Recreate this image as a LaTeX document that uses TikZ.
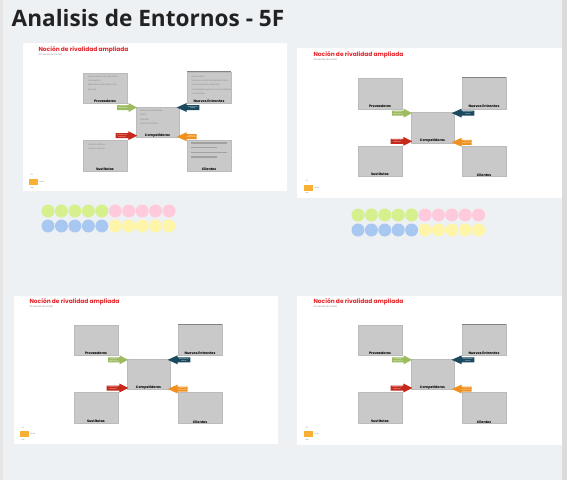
\documentclass[tikz,border=0pt]{standalone}
\usepackage{fontspec}
\setmainfont{Open Sans}
\newfontfamily\pop{Poppins}
\definecolor{bgc}{HTML}{EEF1F4}
\definecolor{titlec}{HTML}{222222}
\definecolor{boxc}{HTML}{C9C9C9}
\definecolor{boxd}{HTML}{BBBBBB}
\definecolor{redt}{HTML}{E3262B}
\definecolor{arrg}{HTML}{9DBB61}
\definecolor{arrb}{HTML}{1B4A5E}
\definecolor{arrr}{HTML}{C62A1C}
\definecolor{arro}{HTML}{F0901E}
\definecolor{legc}{HTML}{F7B032}
\definecolor{cgreen}{HTML}{D5F08C}
\definecolor{cpink}{HTML}{FFCADB}
\definecolor{cblue}{HTML}{A8C8F2}
\definecolor{cyell}{HTML}{FFF5A8}
\definecolor{txtg}{HTML}{8A8A8A}
\tikzset{
  slidebg/.style={fill=white, draw=none},
  box/.style={rectangle, fill=boxc, draw=boxd, line width=0.4pt, minimum width=43.4pt, minimum height=30.6pt, inner sep=0},
  lbl/.style={font=\pop\bfseries\fontsize{3.4}{4}\selectfont, inner sep=0, anchor=base},
  sm/.style={font=\pop\fontsize{2.2}{4.4}\selectfont, text=txtg, inner sep=0, anchor=north west, align=left},
  awt/.style={font=\pop\fontsize{1.5}{1.8}\selectfont, text=white, inner sep=0, align=center},
  dot/.style={circle, minimum size=13pt, inner sep=0, draw=none},
}
\newcommand\porterslide[4]{%
\begin{scope}[shift={(#2,#3)}]
  \node[anchor=west, inner sep=0, font=\pop\bfseries\fontsize{5.9}{6}\selectfont, text=redt] (#1tit) at (-45,-23) {Noción de rivalidad ampliada};
  \node[anchor=west, inner sep=0, font=\pop\fontsize{2.3}{3}\selectfont, text=txtg] (#1sub) at (-45,-18.3) {(5 Fuerzas de Porter)};
  \node[box] (#1prov) at (21.7,15.3) {};
  \node[box, minimum height=31.3pt] (#1nue) at (125.7,15) {};
  \draw[color=boxd!70!black, line width=0.8pt] (#1nue.north west) -- (#1nue.north east);
  \node[box] (#1comp) at (74.2,49.3) {};
  \node[box] (#1sus) at (21.7,82.7) {};
  \node[box] (#1cli) at (125.7,82.7) {};
  \node[lbl] (#1provl) at ([yshift=1.2pt]#1prov.south) {Proveedores};
  \node[lbl] (#1nuel) at ([yshift=1.2pt]#1nue.south) {Nuevos Entrantes};
  \node[lbl] (#1compl) at ([yshift=1.2pt]#1comp.south) {Competidores};
  \node[lbl] (#1susl) at ([yshift=0.6pt]#1sus.south) {Sustitutos};
  \node[lbl] (#1clil) at ([yshift=0.2pt]#1cli.south) {Clientes};
  % arrows
  \fill[arrg] (33.7,32.3) -- (45.3,32.3) -- (45.3,30.3) -- (53.7,34.8) -- (45.3,39.3) -- (45.3,37.3) -- (33.7,37.3) -- cycle;
  \node[awt] (#1ag) at (39.7,34.8) {Poder de\\negociación};
  \fill[arrb] (116,32.3) -- (103.4,32.3) -- (103.4,30.3) -- (93.4,34.8) -- (103.4,39.3) -- (103.4,37.3) -- (116,37.3) -- cycle;
  \node[awt] (#1ab) at (109.5,34.8) {Amenaza de\\nuevos};
  \fill[arrr] (32.4,60.5) -- (45,60.5) -- (45,58.5) -- (54,63) -- (45,67.5) -- (45,65.5) -- (32.4,65.5) -- cycle;
  \node[awt] (#1ar) at (38.7,63) {Amenaza de\\sustitutos};
  \fill[arro] (113.4,61.5) -- (103.4,61.5) -- (103.4,59.5) -- (93.4,64) -- (103.4,68.5) -- (103.4,66.5) -- (113.4,66.5) -- cycle;
  \node[awt] (#1ao) at (108.4,64) {Poder de\\negociación};
  % legend
  \node[inner sep=0, font=\pop\fontsize{1.8}{2}\selectfont, text=txtg, anchor=west] (#1lx) at (-53,102.5) {3\%};
  \node[rectangle, fill=legc, minimum width=9pt, minimum height=6pt, inner sep=0] (#1lr) at (-49.5,109.3) {};
  \node[inner sep=0, font=\pop\fontsize{1.8}{2}\selectfont, text=txtg, anchor=west] (#1lt) at ([xshift=0.8pt]#1lr.east) {Bruto};
  \node[inner sep=0, font=\pop\fontsize{1.8}{2}\selectfont, text=txtg, anchor=west] (#1lb) at (-53,115) {Net};
  \ifnum#4=1
    \node[sm] (#1provt) at (4.5,2.5) {Suprimientos de Operación\\a tu equipo\\Mercados al alcance y los\\precios};
    \node[sm] (#1nuet) at (108,2.5) {Nuevo Nivel\\Nuevas marcas de bebidas listas\\con propuestas naturales\\y saludables para los consumidores\\conscientes};
    \node[sm] (#1compt) at (56.5,37) {Marcas comerciales\\Precio\\Calidad\\Posicionamiento};
    \node[sm] (#1sust) at (4.5,70.5) {Cuerpo estético\\Cuerpo natural};
    \fill[txtg!80] (107.4,69.3) rectangle (144,71);
    \fill[txtg!80] (107.4,73.9) rectangle (133.4,75.6);
    \fill[txtg!80] (107.4,78.9) rectangle (144,80.6);
    \fill[txtg!80] (107.4,83.6) rectangle (133.4,85.3);
  \fi
\end{scope}}
\begin{document}
\begin{tikzpicture}[x=1pt,y=-1pt]
  \useasboundingbox (0,0) rectangle (567,480);
  \fill[bgc] (0,0) rectangle (567,480);
  \fill[black!10] (0,0) rectangle (2.5,480);
  \fill[black!14] (562,0) rectangle (567,480);
  \node[anchor=base west, inner sep=0, font=\bfseries\fontsize{22.6}{26}\selectfont, text=titlec] (title) at (11.5,26) {Analisis de Entornos - 5F};
  % slides
  \fill[slidebg] (23,43) rectangle (287,191);
  \fill[slidebg] (297,48) rectangle (562,198);
  \fill[slidebg] (14,296) rectangle (278,444);
  \fill[slidebg] (297,296) rectangle (562,445);
  \porterslide{a}{83.3}{72.7}{1}
  \porterslide{b}{358.3}{78.3}{0}
  \porterslide{c}{74.3}{325}{0}
  \porterslide{d}{358.3}{325}{0}
  % dots
  \foreach \i in {0,...,4} {
    \node[dot, fill=cgreen] (ag\i) at (48+13.45*\i,211) {};
    \node[dot, fill=cblue] (ab\i) at (48+13.45*\i,226) {};
    \node[dot, fill=cgreen] (bg\i) at (358+13.4*\i,215) {};
    \node[dot, fill=cblue] (bb\i) at (358+13.4*\i,230) {};
  }
  \foreach \i in {5,...,9} {
    \node[dot, fill=cpink] (ap\i) at (48+13.45*\i,211) {};
    \node[dot, fill=cyell] (ay\i) at (48+13.45*\i,226) {};
    \node[dot, fill=cpink] (bp\i) at (358+13.4*\i,215) {};
    \node[dot, fill=cyell] (by\i) at (358+13.4*\i,230) {};
  }
\end{tikzpicture}
\end{document}
